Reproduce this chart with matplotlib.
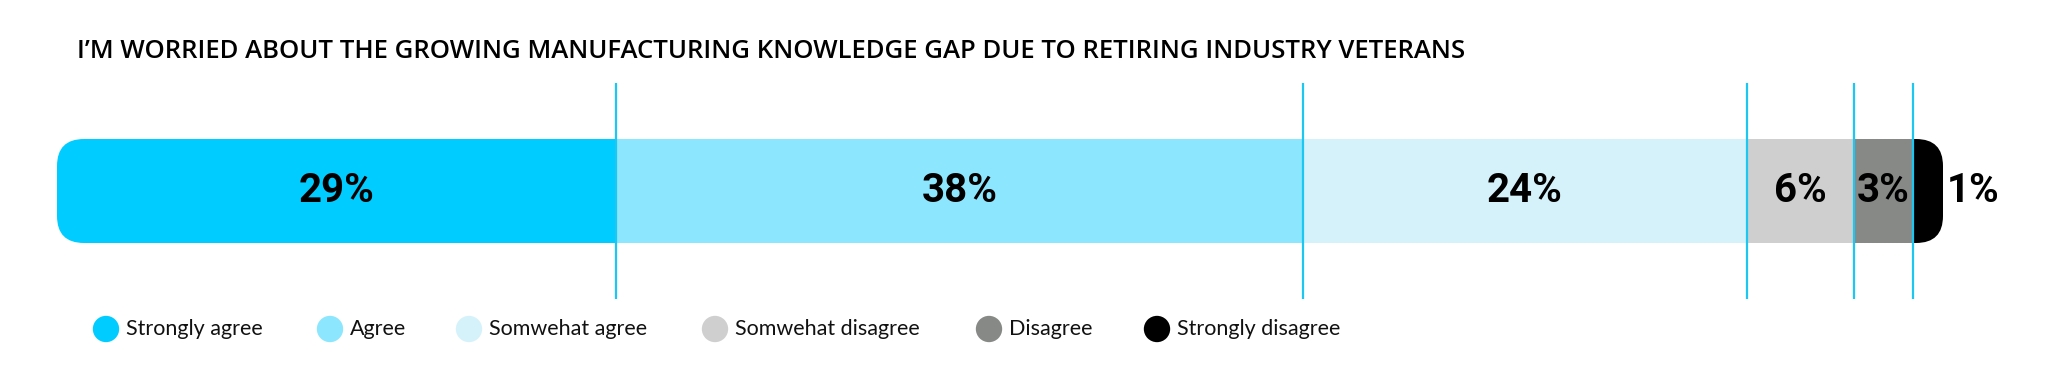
import numpy as np
import matplotlib
matplotlib.use('Agg')
import matplotlib.pyplot as plt
from matplotlib.patches import FancyBboxPatch

categorias = ['Strongly agree', 'Agree', 'Somwehat agree', 'Somwehat disagree', 'Disagree', 'Strongly disagree']
valores = [29.6, 36.4, 23.5, 5.7, 3.1, 1.6]
etiquetas = ['29%', '38%', '24%', '6%', '3%', '1%']
colores = ['#00CCFF', '#8CE6FD', '#D5F2FA', '#CFCFCF', '#878987', '#000000']
titulo = 'I\u2019M WORRIED ABOUT THE GROWING MANUFACTURING KNOWLEDGE GAP DUE TO RETIRING INDUSTRY VETERANS'

W, H = 2048, 378
fig = plt.figure(figsize=(W / 100, H / 100), dpi=100)

# ejes del grafico: x en porcentaje, y en pixeles
total = sum(valores)
x0, x1 = 57, 1943
ax = fig.add_axes([x0 / W, 0, (x1 - x0) / W, 1])
ax.set_xlim(0, total)
ax.set_ylim(H, 0)
ax.axis('off')

y_bar, h_bar = 191, 104
izq = np.concatenate([[0], np.cumsum(valores)[:-1]])
barras = ax.barh(y_bar, valores, left=izq, height=h_bar, color=colores, linewidth=0)

# esquinas redondeadas
px_por_unidad = (x1 - x0) / total
radio = 27
caja = FancyBboxPatch((0, y_bar - h_bar / 2), total, h_bar,
                      boxstyle=f'round,pad=0,rounding_size={radio / px_por_unidad}',
                      mutation_aspect=px_por_unidad, transform=ax.transData,
                      facecolor='none', edgecolor='none')
for b in barras:
    b.set_clip_path(caja)

# lineas verticales
ax.vlines(np.cumsum(valores)[:-1], 83, 299, color='#1CC8F2', linewidth=1.6)

# etiquetas
fuente_num = ['Roboto', 'DejaVu Sans']
for i, (l, v, e) in enumerate(zip(izq, valores, etiquetas)):
    if i == len(valores) - 1:
        ax.annotate(e, xy=(l + v, y_bar), xytext=(3, 0), textcoords='offset points',
                    ha='left', va='center', fontsize=29, fontweight='bold',
                    family=fuente_num, color='black')
    else:
        ax.text(l + v / 2, y_bar, e, ha='center', va='center', fontsize=29,
                fontweight='bold', family=fuente_num, color='black')

# titulo y leyenda en pixeles
ax2 = fig.add_axes([0, 0, 1, 1])
ax2.set_xlim(0, W)
ax2.set_ylim(H, 0)
ax2.axis('off')
ax2.patch.set_alpha(0)

ax2.text(77, 52, titulo, ha='left', va='center', fontsize=18.5, fontweight='semibold',
         family=['Open Sans', 'DejaVu Sans'], color='#000000')

ley_x = [106, 330, 469, 715, 989, 1157]
ley_y = 329
ax2.scatter(ley_x, [ley_y] * len(ley_x), s=360, c=colores, linewidths=0)
for x, c in zip(ley_x, categorias):
    ax2.text(x + 20, ley_y, c, ha='left', va='center', fontsize=15.5,
             family=['Lato', 'DejaVu Sans'], color='#111111')

fig.savefig('out.png', dpi=100, facecolor='white')
